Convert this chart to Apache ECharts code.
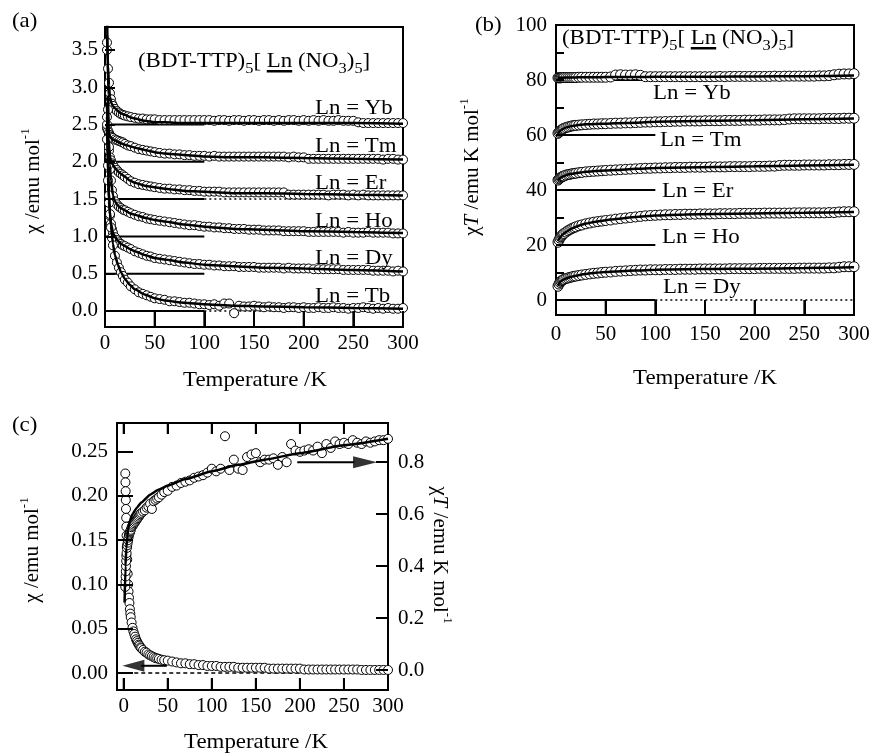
<!DOCTYPE html>
<html><head><meta charset="utf-8">
<script src="https://cdn.jsdelivr.net/npm/echarts@6/dist/echarts.min.js"></script>
<style>html,body{margin:0;padding:0;background:#fff}#c{width:874px;height:753px}</style>
</head><body><div id="c"></div>
<script>
// ---------- DATA ----------
const tempA = [2,3,4,5,6,7,8,10,12,14,16,18,20,23,26,30,34,38,42,46,50,
  55,60,65,70,75,80,85,90,95,100,105,110,115,120,125,130,135,140,145,150,
  155,160,165,170,175,180,185,190,195,200,205,210,215,220,225,230,235,240,245,250,
  255,260,265,270,275,280,285,290,295,300];
const tempFit = [2,3,4,5,6,8,10,13,16,20,25,30,40,50,60,80,100,130,160,200,250,300];

// panel (a): chi (offset) vs T
const offsetsA = [2.5, 2.0, 1.5, 1.0, 0.5, 0.0];
const dottedA = [1.5, 0.0];
const namesA = ['Yb','Tm','Er','Ho','Dy','Tb'];
const chiYb = [3.50,3.25,3.06,2.92,2.84,2.78,2.75,2.71,2.68,2.66,2.64,2.63,2.62,2.61,2.60,2.59,2.58,2.58,2.57,2.57,2.57,
  2.56,2.56,2.56,2.56,2.56,2.56,2.56,2.56,2.56,2.56,
  2.56,2.55,2.56,2.56,2.55,2.56,2.56,2.55,2.56,2.56,
  2.55,2.56,2.56,2.55,2.56,2.55,2.56,2.56,2.55,2.56,
  2.55,2.56,2.55,2.56,2.55,2.55,2.56,2.55,2.55,2.55,
  2.53,2.52,2.52,2.52,2.52,2.52,2.52,2.52,2.52,2.52];
const chiTm = [2.45,2.42,2.39,2.36,2.34,2.33,2.32,2.30,2.29,2.28,2.27,2.26,2.24,2.22,2.21,2.19,2.17,2.16,2.15,2.14,2.13,
  2.12,2.11,2.11,2.10,2.10,2.09,2.09,2.08,2.08,2.08,
  2.07,2.08,2.07,2.07,2.07,2.07,2.07,2.07,2.07,2.07,
  2.07,2.07,2.07,2.07,2.07,2.07,2.06,2.07,2.06,2.06,
  2.04,2.04,2.04,2.04,2.04,2.04,2.04,2.04,2.04,2.04,
  2.04,2.04,2.04,2.04,2.04,2.03,2.04,2.04,2.03,2.03];
const chiEr = [2.50,2.30,2.15,2.06,2.02,1.98,1.96,1.92,1.89,1.86,1.84,1.82,1.80,1.77,1.74,1.72,1.70,1.69,1.68,1.67,1.66,
  1.65,1.64,1.64,1.63,1.63,1.62,1.62,1.61,1.61,1.60,
  1.60,1.60,1.60,1.59,1.59,1.59,1.59,1.59,1.59,1.59,
  1.59,1.59,1.59,1.59,1.59,1.59,1.56,1.56,1.56,1.56,
  1.56,1.56,1.56,1.56,1.55,1.56,1.56,1.56,1.55,1.56,
  1.55,1.56,1.55,1.55,1.55,1.55,1.55,1.55,1.55,1.55];
const chiHo = [3.60,2.70,2.20,1.90,1.75,1.62,1.54,1.47,1.43,1.40,1.38,1.36,1.35,1.33,1.31,1.29,1.27,1.26,1.24,1.23,1.22,
  1.21,1.20,1.19,1.18,1.17,1.16,1.15,1.15,1.14,1.13,
  1.13,1.12,1.12,1.11,1.11,1.10,1.10,1.10,1.09,1.09,
  1.09,1.08,1.08,1.08,1.08,1.07,1.07,1.07,1.07,1.07,
  1.06,1.06,1.06,1.06,1.06,1.06,1.06,1.05,1.06,1.05,
  1.05,1.05,1.06,1.05,1.05,1.05,1.05,1.04,1.04,1.04];
const chiDy = [2.30,1.75,1.45,1.28,1.17,1.10,1.05,0.99,0.95,0.92,0.90,0.88,0.87,0.85,0.83,0.80,0.78,0.76,0.74,0.73,0.71,
  0.70,0.69,0.68,0.67,0.66,0.65,0.64,0.63,0.63,0.62,
  0.62,0.61,0.61,0.60,0.60,0.60,0.59,0.59,0.59,0.59,
  0.58,0.58,0.58,0.58,0.58,0.57,0.58,0.57,0.57,0.57,
  0.57,0.56,0.56,0.56,0.56,0.56,0.56,0.55,0.55,0.55,
  0.55,0.55,0.55,0.54,0.54,0.54,0.54,0.53,0.54,0.53];
const chiTb = [2.60,1.95,1.55,1.30,1.12,0.98,0.88,0.74,0.65,0.58,0.52,0.47,0.42,0.38,0.33,0.29,0.25,0.23,0.21,0.19,0.17,
  0.16,0.15,0.13,0.13,0.12,0.11,0.11,0.10,0.09,0.09,
  0.08,0.09,0.07,0.10,0.10,-0.03,0.07,0.06,0.06,0.07,
  0.06,0.05,0.06,0.05,0.05,0.04,0.05,0.05,0.04,0.05,
  0.04,0.04,0.05,0.04,0.04,0.05,0.04,0.04,0.03,0.04,
  0.04,0.05,0.04,0.03,0.04,0.03,0.04,0.03,0.03,0.04];
const fitYbA = [3.7,3.3,3.02,2.87,2.8,2.75,2.72,2.68,2.65,2.63,2.6,2.58,2.55,2.53,2.53,2.52,2.52,2.52,2.52,2.52,2.52,2.51];
const fitTmA = [2.45,2.41,2.38,2.34,2.32,2.3,2.29,2.27,2.25,2.23,2.21,2.19,2.16,2.13,2.11,2.09,2.07,2.06,2.06,2.05,2.04,2.03];
const fitErA = [2.6,2.33,2.17,2.07,2.02,1.96,1.92,1.87,1.84,1.80,1.75,1.72,1.68,1.66,1.64,1.61,1.60,1.58,1.58,1.57,1.56,1.55];
const fitHoA = [4.2,2.9,2.3,1.95,1.75,1.55,1.47,1.41,1.38,1.35,1.31,1.29,1.25,1.22,1.20,1.16,1.13,1.10,1.09,1.07,1.06,1.045];
const fitDyA = [2.5,1.8,1.47,1.29,1.18,1.05,0.99,0.94,0.90,0.87,0.83,0.80,0.75,0.71,0.69,0.65,0.62,0.60,0.58,0.57,0.55,0.53];
const fitTbA = [2.8,2.0,1.6,1.33,1.14,0.9,0.75,0.62,0.52,0.43,0.35,0.29,0.22,0.17,0.14,0.11,0.09,0.07,0.06,0.05,0.04,0.03];

// panel (b): chiT (offset) vs T
const offsetsB = [80, 60, 40, 20, 0];
const dottedB = [0];
const namesB = ['Yb','Tm','Er','Ho','Dy'];
const chiTYb = [80.8,80.8,80.8,80.8,80.9,80.9,80.9,80.9,80.9,80.9,80.9,80.9,80.9,81.0,81.0,81.0,81.0,81.0,81.0,81.0,81.0,
  81.1,81.8,81.9,81.8,81.8,81.9,81.7,81.2,81.2,81.2,
  81.2,81.2,81.2,81.2,81.2,81.2,81.2,81.2,81.2,81.2,
  81.2,81.2,81.3,81.2,81.3,81.3,81.3,81.3,81.3,81.3,
  81.3,81.3,81.3,81.4,81.3,81.4,81.4,81.4,81.4,81.4,
  81.4,81.4,81.5,81.5,81.6,81.9,82.1,82.2,82.2,82.3];
const chiTTm = [60.6,61.0,61.4,61.7,62.0,62.2,62.4,62.7,62.9,63.1,63.3,63.4,63.5,63.6,63.7,63.8,63.9,64.0,64.0,64.1,64.1,
  64.2,64.3,64.3,64.4,64.4,64.5,64.6,64.7,64.7,64.8,
  64.8,64.9,64.9,65.0,65.0,65.1,65.1,65.1,65.1,65.2,
  65.2,65.2,65.2,65.3,65.3,65.3,65.3,65.4,65.4,65.4,
  65.4,65.5,65.5,65.5,65.5,65.6,65.8,65.9,65.9,65.9,
  65.9,65.9,65.9,66.0,66.0,66.0,66.0,66.1,66.1,66.1];
const chiTEr = [43.6,44.0,44.3,44.6,44.8,45.0,45.1,45.4,45.6,45.7,45.9,46.0,46.1,46.3,46.4,46.6,46.7,46.8,46.9,47.0,47.1,
  47.2,47.3,47.4,47.5,47.6,47.7,47.8,47.9,47.9,48.0,
  48.0,48.1,48.1,48.2,48.2,48.2,48.3,48.3,48.3,48.3,
  48.4,48.4,48.4,48.4,48.5,48.5,48.5,48.5,48.5,48.6,
  48.6,48.6,48.7,48.7,48.9,49.0,49.0,49.0,49.0,49.1,
  49.1,49.1,49.1,49.1,49.2,49.2,49.2,49.3,49.3,49.3];
const chiTHo = [21.0,21.8,22.5,23.0,23.5,23.9,24.2,24.7,25.2,25.6,26.0,26.3,26.6,27.0,27.3,27.7,28.0,28.3,28.5,28.7,28.9,
  29.1,29.4,29.6,29.8,30.0,30.2,30.4,30.6,30.7,30.8,
  30.9,31.0,31.0,31.1,31.1,31.2,31.2,31.2,31.3,31.3,
  31.3,31.3,31.4,31.4,31.4,31.4,31.5,31.5,31.5,31.5,
  31.5,31.6,31.6,31.6,31.6,31.6,31.6,31.7,31.7,31.7,
  31.7,31.7,31.7,31.7,31.8,31.8,32.0,32.1,32.1,32.1];
const chiTDy = [5.0,5.8,6.4,6.8,7.1,7.3,7.5,7.8,8.0,8.2,8.4,8.6,8.7,8.9,9.1,9.3,9.5,9.7,9.8,10.0,10.1,
  10.2,10.4,10.5,10.6,10.7,10.8,10.9,10.9,11.0,11.0,
  11.0,11.1,11.1,11.1,11.2,11.2,11.2,11.2,11.3,11.3,
  11.3,11.3,11.3,11.3,11.4,11.4,11.4,11.4,11.4,11.4,
  11.5,11.5,11.5,11.5,11.5,11.5,11.5,11.5,11.6,11.6,
  11.6,11.6,11.6,11.6,11.7,11.7,11.9,12.1,12.1,12.1];
const fitYbB = [80.8,80.8,80.8,80.8,80.8,80.85,80.9,80.9,80.95,80.95,81.0,81.0,81.0,81.05,81.1,81.1,81.15,81.2,81.2,81.3,81.4,81.6];
const fitTmB = [60.5,61.0,61.4,61.7,62.0,62.4,62.7,63.0,63.3,63.5,63.7,63.9,64.0,64.1,64.3,64.5,64.8,65.0,65.2,65.4,65.7,66.0];
const fitErB = [43.5,43.9,44.3,44.6,44.8,45.1,45.4,45.7,45.9,46.1,46.4,46.6,46.9,47.1,47.3,47.7,48.0,48.2,48.4,48.6,48.9,49.2];
const fitHoB = [21.5,22.2,22.8,23.2,23.6,24.2,24.7,25.4,26.0,26.6,27.3,27.8,28.5,29.0,29.5,30.2,30.7,31.1,31.3,31.5,31.7,32.0];
const fitDyB = [5.2,5.9,6.4,6.8,7.1,7.5,7.8,8.2,8.5,8.8,9.2,9.5,9.9,10.2,10.4,10.7,11.0,11.2,11.3,11.4,11.6,11.9];

// baseline segments (T range)
const baseSolidT = [0, 100];
const baseDotT = [100, 300];

// panel (c)
const tempC = [1.8,2.0,2.2,2.4,2.6,2.8,3.0,3.3,3.6,4.0,4.5,5.0,5.5,6.0,6.5,7.0,7.5,8.0,9,10,11,12,13,14,15,16,17,18,19,20,
  22,24,26,28,30,32,34,36,38,40,43,46,50,
  55,60,65,70,75,80,85,90,95,100,105,110,115,120,125,130,135,140,145,150,
  155,160,165,170,175,180,185,190,195,200,205,210,215,220,225,230,235,240,245,250,
  255,260,265,270,275,280,285,290,295,300];
const chiC = [0.225,0.215,0.205,0.195,0.185,0.175,0.165,0.155,0.143,0.128,0.112,0.100,0.092,0.085,0.079,0.072,0.067,0.063,
  0.057,0.051,0.047,0.044,0.041,0.038,0.036,0.034,0.032,0.031,0.029,0.028,
  0.026,0.024,0.023,0.021,0.020,0.019,0.018,0.017,0.0165,0.016,0.015,0.0145,0.014,
  0.013,0.012,0.011,0.011,0.010,0.010,0.009,0.009,0.008,0.008,
  0.008,0.007,0.007,0.007,0.007,0.006,0.006,0.006,0.006,0.006,
  0.006,0.006,0.005,0.005,0.005,0.005,0.005,0.005,0.005,0.005,
  0.004,0.004,0.004,0.004,0.004,0.004,0.004,0.004,0.004,0.004,
  0.004,0.004,0.004,0.0035,0.0035,0.0035,0.0035,0.0035,0.0035,0.0035];
const chiTC = [0.32,0.34,0.36,0.38,0.40,0.42,0.44,0.45,0.47,0.48,0.49,0.50,0.51,0.52,0.525,0.53,0.535,0.54,
  0.55,0.555,0.56,0.565,0.57,0.575,0.58,0.585,0.59,0.595,0.60,0.605,
  0.61,0.615,0.625,0.63,0.64,0.62,0.65,0.655,0.66,0.665,0.675,0.685,0.69,
  0.705,0.71,0.72,0.725,0.73,0.74,0.745,0.75,0.76,0.775,
  0.765,0.775,0.90,0.77,0.81,0.775,0.77,0.82,0.83,0.835,
  0.80,0.81,0.81,0.815,0.79,0.82,0.80,0.87,0.845,0.84,
  0.845,0.85,0.845,0.86,0.835,0.87,0.855,0.88,0.87,0.875,
  0.87,0.885,0.875,0.87,0.88,0.875,0.88,0.885,0.885,0.89];
const tempFitC = [1,2,3,4,5,7,10,15,20,30,40,50,70,100,130,160,200,250,300];
const chiTFitC = [0.26,0.40,0.47,0.51,0.54,0.575,0.60,0.625,0.645,0.675,0.695,0.71,0.735,0.765,0.79,0.81,0.835,0.865,0.89];
const zeroLineC = [[12, 0], [300, 0]];
const arrowRightShaft = [[197, 0.8], [262, 0.8]];
const arrowRightHead = [[274, 0.8]];
const arrowLeftShaft = [[49, 0.0082], [20, 0.0082]];
const arrowLeftHead = [[11, 0.0082]];

// tick values
const ticksXA = [0,50,100,150,200,250,300];
const ticksYA = [0,0.5,1.0,1.5,2.0,2.5,3.0,3.5];
const ticksYBminor = [0,10,20,30,40,50,60,70,80,90,100];
const ticksYB = [0,20,40,60,80,100];
const ticksYC = [0,0.05,0.10,0.15,0.20,0.25];
const ticksYC2 = [0,0.2,0.4,0.6,0.8];

// axis extents
const yRangeA = [-0.215, 3.808];
const yRangeB = [-5.45, 100];
const xRangeC = [-7.6, 300];
const yRangeC = [-0.0191, 0.2819];
const yRangeC2 = [-0.0769, 0.951];

// ---------- CHART ----------
const FONT = "'Liberation Serif','Times New Roman','DejaVu Serif',serif";
const zip = (xs, ys) => xs.map((x, i) => [x, ys[i]]);
const chart = echarts.init(document.getElementById('c'), null, {renderer: 'canvas'});

const gridBase = {show: true, borderColor: '#000', borderWidth: 2, backgroundColor: 'transparent', containLabel: false};
const labelStyle = {color: '#000', fontSize: 21, fontFamily: FONT};

function xAx(grid, min, max, tickLen, margin, extra) {
  return Object.assign({
    type: 'value', gridIndex: grid, min: min, max: max, z: 20,
    axisLine: {show: false, onZero: false}, splitLine: {show: false},
    axisTick: {show: true, inside: true, length: tickLen, lineStyle: {color: '#000', width: 2}, customValues: ticksXA},
    axisLabel: Object.assign({margin: margin, customValues: ticksXA}, labelStyle)
  }, extra || {});
}
function yAx(grid, min, max, tickVals, labVals, tickLen, margin, dec, extra) {
  return Object.assign({
    type: 'value', gridIndex: grid, min: min, max: max, z: 20,
    axisLine: {show: false, onZero: false}, splitLine: {show: false},
    axisTick: {show: true, inside: true, length: tickLen, lineStyle: {color: '#000', width: 2}, customValues: tickVals},
    axisLabel: Object.assign({margin: margin, customValues: labVals, formatter: v => Number(v).toFixed(dec)}, labelStyle)
  }, extra || {});
}

const series = [];
const circle = (size) => ({symbol: 'circle', symbolSize: size, itemStyle: {color: '#fff', borderColor: '#000', borderWidth: 1, opacity: 1}});
function baseLine(xi, yi, data, dotted) {
  return {type: 'line', xAxisIndex: xi, yAxisIndex: yi, data: data, symbol: 'none', silent: true, z: 1,
    lineStyle: dotted ? {color: '#000', width: 1.5, type: [2, 3]} : {color: '#000', width: 2}};
}
function fitLine(xi, yi, data) {
  return {type: 'line', xAxisIndex: xi, yAxisIndex: yi, data: data, symbol: 'none', silent: true, z: 3,
    smooth: 0.15, smoothMonotone: 'x', lineStyle: {color: '#000', width: 2.5}};
}
function scat(xi, yi, data, size) {
  return Object.assign({type: 'scatter', xAxisIndex: xi, yAxisIndex: yi, data: data, silent: true, z: 2}, circle(size));
}
// vertical tick marks drawn from the axis edge (duplicates the axis ticks)
function xTicks(xi, yi, vals, y0, y1) {
  const d = [];
  vals.forEach(v => { d.push([v, y0]); d.push([v, y1]); d.push(null); });
  return {type: 'line', xAxisIndex: xi, yAxisIndex: yi, data: d, symbol: 'none', silent: true, z: 20,
    connectNulls: false, clip: false, lineStyle: {color: '#000', width: 2}};
}

// panel (a)
offsetsA.forEach(b => {
  series.push(baseLine(0, 0, baseSolidT.map(t => [t, b]), false));
  if (dottedA.indexOf(b) >= 0) series.push(baseLine(0, 0, baseDotT.map(t => [t, b]), true));
});
[chiYb, chiTm, chiEr, chiHo, chiDy, chiTb].forEach(v => series.push(scat(0, 0, zip(tempA, v), 9)));
[fitYbA, fitTmA, fitErA, fitHoA, fitDyA, fitTbA].forEach(v => series.push(fitLine(0, 0, zip(tempFit, v))));
series.push(xTicks(0, 0, ticksXA.slice(1, 6), yRangeA[0], 0));

// panel (b)
offsetsB.forEach(b => {
  series.push(baseLine(1, 1, baseSolidT.map(t => [t, b]), false));
  if (dottedB.indexOf(b) >= 0) series.push(baseLine(1, 1, baseDotT.map(t => [t, b]), true));
});
[chiTYb, chiTTm, chiTEr, chiTHo, chiTDy].forEach(v => series.push(scat(1, 1, zip(tempA, v), 10)));
[fitYbB, fitTmB, fitErB, fitHoB, fitDyB].forEach(v => series.push(fitLine(1, 1, zip(tempFit, v))));
series.push(xTicks(1, 1, ticksXA.slice(1, 6), yRangeB[0], 0));

// panel (c)
series.push({type: 'line', xAxisIndex: 2, yAxisIndex: 2, data: zeroLineC, symbol: 'none', silent: true, z: 1,
  lineStyle: {color: '#000', width: 1.5, type: [4, 3]}});
series.push(scat(2, 2, zip(tempC, chiC), 9));
series.push(scat(2, 3, zip(tempC, chiTC), 9));
series.push(fitLine(2, 3, zip(tempFitC, chiTFitC)));
series.push({type: 'line', xAxisIndex: 2, yAxisIndex: 3, data: arrowRightShaft, symbol: 'none', silent: true, z: 4,
  lineStyle: {color: '#000', width: 2}});
series.push({type: 'scatter', xAxisIndex: 2, yAxisIndex: 3, data: arrowRightHead, silent: true, z: 4,
  symbol: 'path://M0,0L20,5L0,10Z', symbolSize: [24, 12], itemStyle: {color: '#000'}});
series.push({type: 'line', xAxisIndex: 2, yAxisIndex: 2, data: arrowLeftShaft, symbol: 'none', silent: true, z: 4,
  lineStyle: {color: '#000', width: 2}});
series.push({type: 'scatter', xAxisIndex: 2, yAxisIndex: 2, data: arrowLeftHead, silent: true, z: 4,
  symbol: 'path://M20,0L0,5L20,10Z', symbolSize: [22, 12], itemStyle: {color: '#000'}});
series.push(xTicks(2, 2, ticksXA.slice(0, 6), yRangeC[0], -0.0056));
series.push(xTicks(2, 2, ticksXA.slice(0, 6), yRangeC[1], 0.2695));

// ---------- TEXT ----------
const SX = 1.09;
const rt = {
  t: {fontSize: 21, fontFamily: FONT, fill: '#000', lineHeight: 24},
  i: {fontSize: 21, fontFamily: FONT, fill: '#000', lineHeight: 24, fontStyle: 'italic'},
  s: {fontSize: 15, fontFamily: FONT, fill: '#000', lineHeight: 15, padding: [16, 0, 0, 0]},
  p: {fontSize: 13, fontFamily: FONT, fill: '#000', lineHeight: 13, padding: [0, 0, 14, 0]},
  u: {fontSize: 21, fontFamily: FONT, fill: '#000', lineHeight: 24, padding: [1, 0, 1, 0],
      backgroundColor: {type: 'linear', x: 0, y: 0, x2: 0, y2: 1, colorStops: [
        {offset: 0, color: 'rgba(0,0,0,0)'}, {offset: 0.9, color: 'rgba(0,0,0,0)'},
        {offset: 0.9, color: '#000'}, {offset: 1, color: '#000'}]}}
};
function txt(x, y, text, align, opts) {
  return Object.assign({type: 'text', x: x, y: y, z: 100, silent: true, scaleX: SX,
    style: {text: text, fontSize: 21, fontFamily: FONT, fill: '#000', align: align || 'left', verticalAlign: 'middle', rich: rt}}, opts || {});
}
const titleText = '{t|(BDT-TTP)}{s|5}{t|[ }{u|Ln}{t| (NO}{s|3}{t|)}{s|5}{t|]}';
const chiTitle = '{t|χ /emu mol}{p|-1}';
const chiTTitle = '{t|χ}{i|T}{t| /emu K mol}{p|-1}';

const labelsA = [[315, 108], [315, 146], [315, 183], [315, 221], [315, 258], [315, 296]];
const labelsB = [[653, 93], [660, 140], [662, 191], [662, 237], [663, 287]];

const graphics = [
  txt(12, 21, '(a)'), txt(475, 25, '(b)'), txt(12, 425, '(c)'),
  txt(138, 61, titleText), txt(562, 38, titleText),
  txt(255, 380, 'Temperature /K', 'center'), txt(705, 378, 'Temperature /K', 'center'), txt(256, 742, 'Temperature /K', 'center'),
  txt(33, 181, chiTitle, 'center', {rotation: Math.PI / 2, scaleX: 1}),
  txt(472, 167, chiTTitle, 'center', {rotation: Math.PI / 2, scaleX: 1}),
  txt(32, 550, chiTitle, 'center', {rotation: Math.PI / 2, scaleX: 1}),
  txt(440, 555, chiTTitle, 'center', {rotation: -Math.PI / 2, scaleX: 1})
];
namesA.forEach((n, i) => graphics.push(txt(labelsA[i][0], labelsA[i][1], 'Ln = ' + n)));
namesB.forEach((n, i) => graphics.push(txt(labelsB[i][0], labelsB[i][1], 'Ln = ' + n)));

chart.setOption({
  animation: false,
  backgroundColor: '#fff',
  grid: [
    Object.assign({left: 105, top: 27, width: 298, height: 300}, gridBase),
    Object.assign({left: 556, top: 25, width: 298, height: 290}, gridBase),
    Object.assign({left: 117, top: 423, width: 271, height: 267}, gridBase)
  ],
  xAxis: [
    xAx(0, 0, 300, 16, 6),
    xAx(1, 0, 300, 15, 9),
    xAx(2, xRangeC[0], xRangeC[1], 12, 6),
    xAx(2, xRangeC[0], xRangeC[1], 11, 6, {position: 'top', axisLabel: {show: false}})
  ],
  yAxis: [
    yAx(0, yRangeA[0], yRangeA[1], ticksYA, ticksYA, 10, 7, 1),
    yAx(1, yRangeB[0], yRangeB[1], ticksYBminor, ticksYB, 8, 9, 0),
    yAx(2, yRangeC[0], yRangeC[1], ticksYC, ticksYC, 16, 9, 2),
    yAx(2, yRangeC2[0], yRangeC2[1], ticksYC2, ticksYC2, 12, 10, 1, {position: 'right'})
  ],
  series: series,
  graphic: graphics
});
</script></body></html>
